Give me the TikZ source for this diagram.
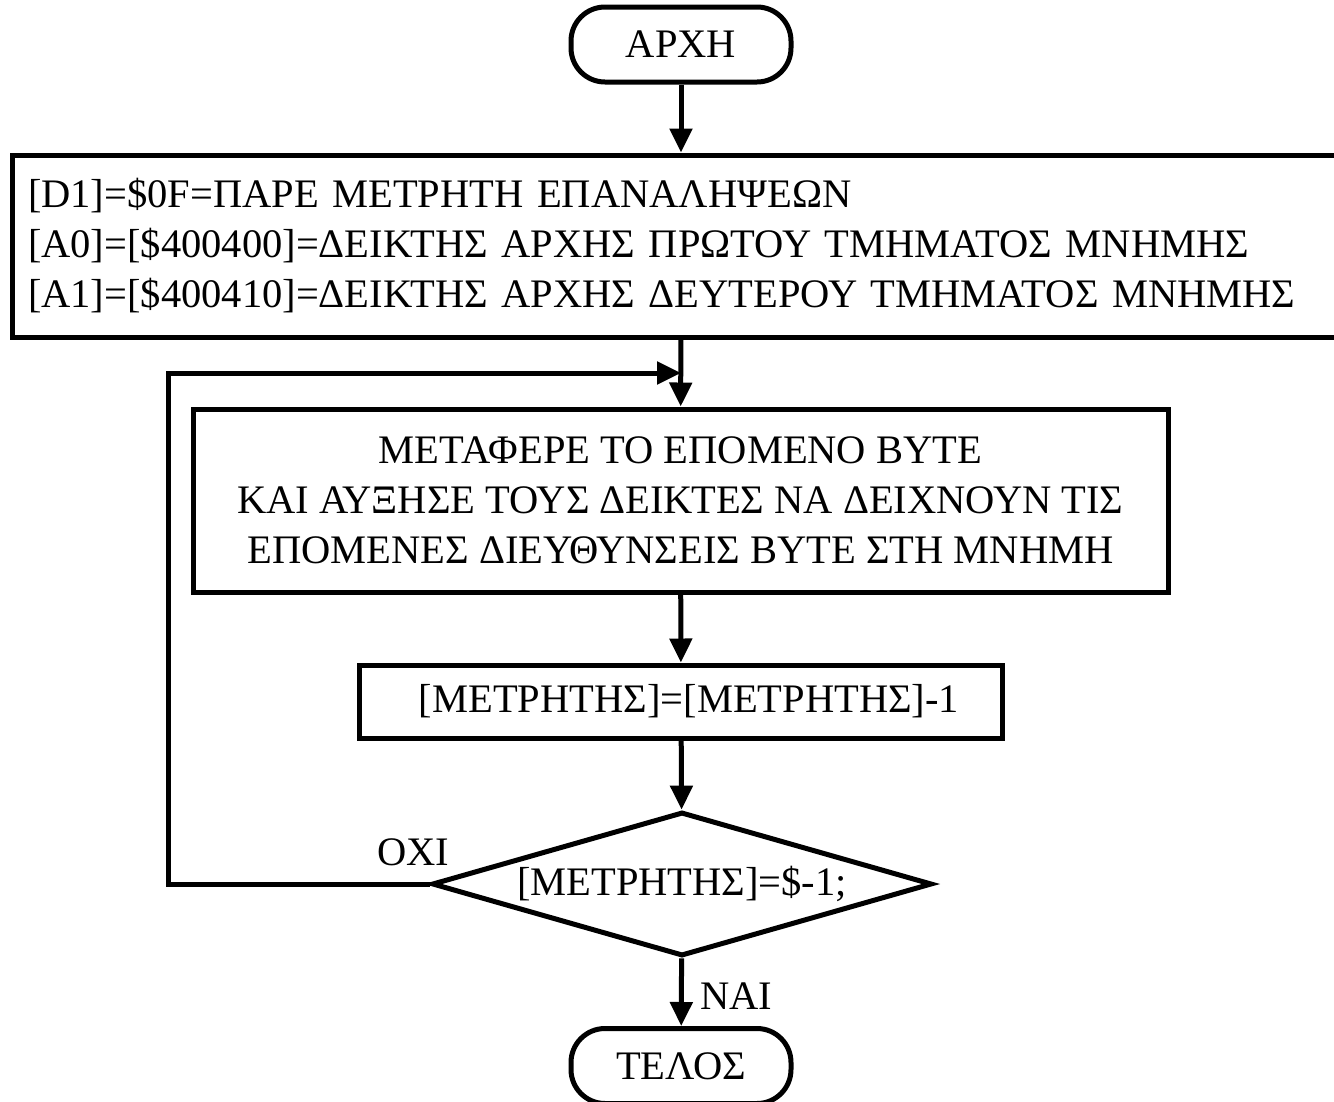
\documentclass[tikz,border=0pt]{standalone}
\usepackage{fontspec}
\setmainfont{Liberation Serif}
\usetikzlibrary{arrows.meta,shapes.geometric}
\begin{document}
\begin{tikzpicture}[x=1pt,y=-1pt,
  line width=5pt,
  font=\fontsize{40.5}{50}\selectfont,
  every node/.style={inner sep=0pt},
  terminal/.style={draw, rounded corners=34pt, minimum width=220pt, minimum height=75pt},
  procbox/.style={draw, align=center},
  decision/.style={draw, diamond, aspect=3.47, minimum width=500pt, minimum height=144pt},
  flow/.style={-{Triangle[length=24pt,width=22pt]}},
]
\useasboundingbox (0,0) rectangle (1334,1101);

% blocks of the flowchart
\node[terminal] (start) at (681,44.5) {ΑΡΧΗ};
\node[procbox, minimum height=182pt, text width=1306pt, inner xsep=16pt, align=left] (init) at (681,246)
  {[D1]=\$0F=ΠΑΡΕ ΜΕΤΡΗΤΗ ΕΠΑΝΑΛΗΨΕΩΝ\\{}[A0]=[\$400400]=ΔΕΙΚΤΗΣ ΑΡΧΗΣ ΠΡΩΤΟΥ ΤΜΗΜΑΤΟΣ ΜΝΗΜΗΣ\\{}[A1]=[\$400410]=ΔΕΙΚΤΗΣ ΑΡΧΗΣ ΔΕΥΤΕΡΟΥ ΤΜΗΜΑΤΟΣ ΜΝΗΜΗΣ};
\node[procbox, minimum width=975pt, minimum height=183pt] (move) at (680.5,500.5)
  {ΜΕΤΑΦΕΡΕ ΤΟ ΕΠΟΜΕΝΟ BYTE\\ΚΑΙ ΑΥΞΗΣΕ ΤΟΥΣ ΔΕΙΚΤΕΣ ΝΑ ΔΕΙΧΝΟΥΝ ΤΙΣ\\ΕΠΟΜΕΝΕΣ ΔΙΕΥΘΥΝΣΕΙΣ BYTE ΣΤΗ ΜΝΗΜΗ};
\node[procbox, minimum width=643pt, minimum height=73pt] (count) at (681,701.5) {\hspace*{16pt}[ΜΕΤΡΗΤΗΣ]=[ΜΕΤΡΗΤΗΣ]-1};
\node[decision] (test) at (682,884) {[ΜΕΤΡΗΤΗΣ]=\$-1;};
\node[terminal] (stop) at (681,1066) {ΤΕΛΟΣ};

% branch labels
\node (no) at (413,852) {ΟΧΙ};
\node (yes) at (736,996) {ΝΑΙ};

% loop-back points
\coordinate (join) at (681,373);
\coordinate (back) at (168,373);

% connectors
\draw[flow] (start) -- (init);
\draw[flow] (init) -- (move);
\draw[flow] (move) -- (count);
\draw[flow] (count) -- (test);
\draw[flow] (test) -- (stop);
\draw[flow] (test.west) -| (back) -- (join);
\end{tikzpicture}
\end{document}
